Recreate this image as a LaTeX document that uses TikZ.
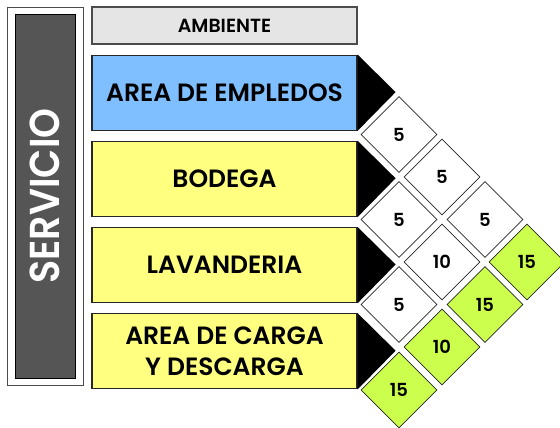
\documentclass[tikz,border=0pt]{standalone}
\usepackage{fontspec}
\setmainfont{Poppins}[UprightFont=* SemiBold]
\usetikzlibrary{positioning, shapes.geometric}
\definecolor{headgray}{RGB}{229,229,229}
\definecolor{roomblue}{RGB}{128,191,255}
\definecolor{roomyellow}{RGB}{255,255,128}
\definecolor{cellgreen}{RGB}{204,255,77}
\definecolor{sidegray}{RGB}{85,85,85}

\begin{document}
\begin{tikzpicture}[x=1pt, y=1pt,
    roombox/.style={draw=black!85, line width=1.2pt, rectangle, minimum width=265pt, minimum height=75pt, inner sep=0pt, align=center, font=\fontsize{25}{31}\selectfont},
    cell/.style={draw=black!85, line width=0.8pt, diamond, aspect=1, minimum width=76pt, minimum height=76pt, inner sep=0pt, fill=white, font=\fontsize{18}{20}\selectfont},
    hot/.style={cell, fill=cellgreen}]
    \useasboundingbox (0,0) rectangle (560,-428);

    % side label
    \node (Frame) [draw=black!70, line width=0.8pt, rectangle, minimum width=76pt, minimum height=378pt, inner sep=0pt] at (45,-196) {};
    \node (Servicio) [draw=black, line width=0.8pt, fill=sidegray, rectangle, minimum width=364pt, minimum height=60pt, inner sep=0pt, text=white, rotate=90, font=\fontsize{38}{40}\selectfont] at (Frame.center) {\scalebox{1}[1.1]{SERVICIO}};

    % rooms
    \node (Ambiente) [roombox, draw=black!70, fill=headgray, minimum height=37pt, font=\fontsize{19}{22}\selectfont] at (224.5,-25.5) {AMBIENTE};
    \node (Empleados) [roombox, fill=roomblue, below=10pt of Ambiente] {AREA DE EMPLEDOS};
    \node (Bodega) [roombox, fill=roomyellow, below=10pt of Empleados] {BODEGA};
    \node (Lavanderia) [roombox, fill=roomyellow, below=10pt of Bodega] {LAVANDERIA};
    \node (Carga) [roombox, fill=roomyellow, below=10pt of Lavanderia] {AREA DE CARGA\\Y DESCARGA};

    % pointers
    \fill (Empleados.north east) -- ++(38,-37.5) -- (Empleados.south east) -- cycle;
    \fill (Bodega.north east) -- ++(38,-37.5) -- (Bodega.south east) -- cycle;
    \fill (Lavanderia.north east) -- ++(38,-37.5) -- (Lavanderia.south east) -- cycle;
    \fill (Carga.north east) -- ++(38,-37.5) -- (Carga.south east) -- cycle;

    % relation cells
    \node (EmpBod) [cell] at (399,-134.5) {5};
    \node (BodLav) [cell] at (399,-219.5) {5};
    \node (LavCar) [cell] at (399,-304.5) {5};
    \node (CarOut) [hot] at (399,-390) {15};
    \node (EmpLav) [cell] at (442,-177) {5};
    \node (BodCar) [cell] at (442,-262) {10};
    \node (LavOut) [hot] at (442,-347) {10};
    \node (EmpCar) [cell] at (485,-219.5) {5};
    \node (BodOut) [hot] at (485,-304.5) {15};
    \node (EmpOut) [hot] at (527,-262) {15};
\end{tikzpicture}
\end{document}
